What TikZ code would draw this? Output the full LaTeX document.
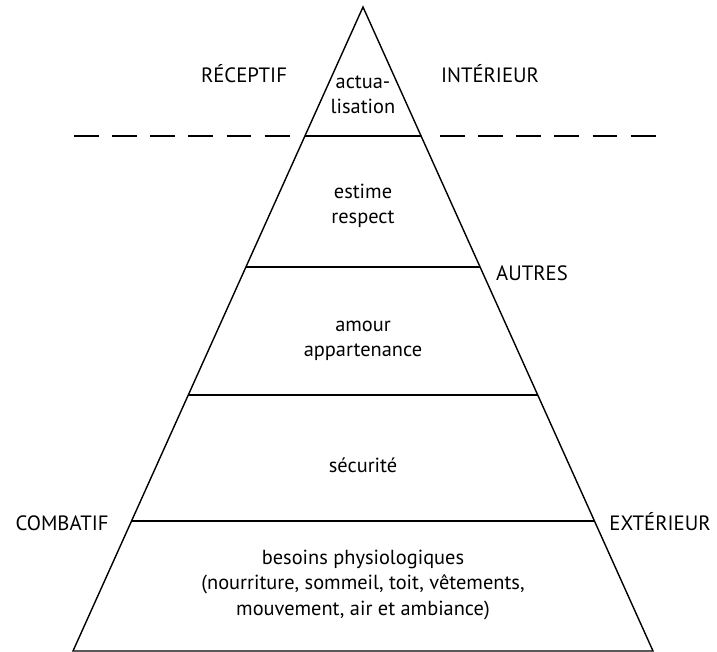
\documentclass[tikz,border=0pt]{standalone}
\usepackage{fontspec}
\setmainfont{PT Sans}
\usetikzlibrary{
  calc
  }
\tikzset{
  edge/.style={line width=0.8pt},
  sep/.style={line width=0.8pt, dash pattern=on 14.2pt off 7.5pt},
  lab/.style={font=\fontsize{11.8}{14}\selectfont, anchor=base},
  level/.style={font=\fontsize{11.6}{14.5}\selectfont, align=center},
}

\begin{document}
\begin{tikzpicture}[x=0.02cm, y=-0.02cm]
  \useasboundingbox (0,0) rectangle (717,652);
% =========================================================
% (A) pyramid outline
% =========================================================
  \coordinate (apex) at (363,7);
  \coordinate (bl) at (73,651);
  \coordinate (br) at (653,651);
  \draw[edge] (bl) -- (apex) -- (br) -- cycle;
% =========================================================
% (B) level separators
% =========================================================
  \coordinate (s0l) at ($(apex)!0.2003!(bl)$);
  \coordinate (s0r) at ($(apex)!0.2003!(br)$);
  \coordinate (s1l) at ($(apex)!0.4037!(bl)$);
  \coordinate (s1r) at ($(apex)!0.4037!(br)$);
  \coordinate (s2l) at ($(apex)!0.6025!(bl)$);
  \coordinate (s2r) at ($(apex)!0.6025!(br)$);
  \coordinate (s3l) at ($(apex)!0.7981!(bl)$);
  \coordinate (s3r) at ($(apex)!0.7981!(br)$);
  \draw[edge] (s0l) -- (s0r);
  \draw[edge] (s1l) -- (s1r);
  \draw[edge] (s2l) -- (s2r);
  \draw[edge] (s3l) -- (s3r);
  % dashed border outside the top level
  \coordinate (dl1) at (74,136);
  \coordinate (dl2) at (290,136);
  \coordinate (dr1) at (440,136);
  \coordinate (dr2) at (656,136);
  \draw[sep] (dl1) -- (dl2);
  \draw[sep] (dr1) -- (dr2);
% =========================================================
% (C) level texts
% =========================================================
  \node[level] (actu) at (363,95) {actua-\\lisation};
  \node[level] (estime) at (363,206) {estime\\respect};
  \node[level] (amour) at (363,341) {amour\\appartenance};
  \node[level, anchor=base] (secu) at (363,472) {sécurité};
  \node[level] (besoins) at (363,585) {besoins physiologiques\\(nourriture, sommeil, toit, vêtements,\\mouvement, air et ambiance)};
% =========================================================
% (D) side labels
% =========================================================
  \node[lab] (recep) at (244,83) {RÉCEPTIF};
  \node[lab] (inter) at (490,83) {INTÉRIEUR};
  \node[lab] (autres) at (532,280) {AUTRES};
  \node[lab] (combat) at (62,530) {COMBATIF};
  \node[lab] (exter) at (660,530) {EXTÉRIEUR};
\end{tikzpicture}
\end{document}
